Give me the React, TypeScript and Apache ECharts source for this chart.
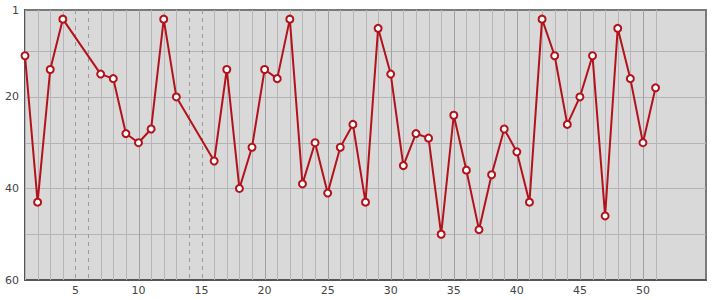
import React, { useEffect, useRef } from "react";
import * as echarts from "echarts";

const weeks: number[] = Array.from({ length: 51 }, (_, i) => i + 1);
const ranks: (number | null)[] = [
  11, 43, 14, 3, null, null, 15, 16, 28, 30,
  27, 3, 20, null, null, 34, 14, 40, 31, 14,
  16, 3, 39, 30, 41, 31, 26, 43, 5, 15,
  35, 28, 29, 50, 24, 36, 49, 37, 27, 32,
  43, 3, 11, 26, 20, 11, 46, 5, 16, 30,
  18,
];
const yLabels: number[] = [1, 20, 40, 60];
const yGridValues: number[] = [10, 20, 30, 40, 50];
const xLabelStep = 5;

const RED = "#b3121b";

export default function App() {
  const ref = useRef<HTMLDivElement>(null);
  useEffect(() => {
    if (!ref.current) return;
    const chart = echarts.init(ref.current, undefined, { renderer: "svg" });
    const points = weeks
      .map((w, i) => [w, ranks[i]])
      .filter((p) => p[1] !== null);
    const gridData = weeks.map((w, i) => [w, ranks[i] === null ? 1 : 0]);
    chart.setOption({
      animation: false,
      grid: {
        left: 25,
        top: 10,
        right: 9,
        bottom: 20,
        show: true,
        backgroundColor: "#d9d9d9",
        borderColor: "#7a7a7a",
        borderWidth: 2,
      },
      xAxis: {
        type: "value",
        min: 1,
        max: 55,
        interval: 1,
        axisLine: { show: true, lineStyle: { color: "#555", width: 2 } },
        axisTick: { show: false },
        splitLine: { show: false },
        axisLabel: {
          color: "#444",
          fontFamily: "DejaVu Sans",
          fontSize: 11,
          margin: 5,
          formatter: (v: number) =>
            v % xLabelStep === 0 && v <= weeks.length ? String(v) : "",
        },
      },
      yAxis: {
        type: "value",
        inverse: true,
        min: 1,
        max: 60,
        axisLine: { show: true, lineStyle: { color: "#555", width: 2 } },
        axisTick: { show: false, customValues: yLabels },
        splitLine: { show: false },
        axisLabel: {
          color: "#444",
          fontFamily: "DejaVu Sans",
          fontSize: 11,
          margin: 6,
          customValues: yLabels,
          formatter: (v: number) => String(v),
        },
      },
      series: [
        {
          type: "custom",
          z: 1,
          silent: true,
          data: yGridValues.map((v) => [1, v]),
          renderItem: (params: any, api: any) => {
            const cs = params.coordSys;
            const y = Math.round(api.coord([1, api.value(1)])[1]) + 0.5;
            return {
              type: "line",
              shape: { x1: cs.x, y1: y, x2: cs.x + cs.width, y2: y },
              style: { stroke: "#b4b4b4", lineWidth: 1 },
            };
          },
        },
        {
          type: "custom",
          z: 1,
          silent: true,
          data: gridData,
          renderItem: (params: any, api: any) => {
            const w = api.value(0);
            const missing = api.value(1) === 1;
            const cs = params.coordSys;
            const x = Math.round(api.coord([w, 1])[0]) + 0.5;
            const major = w % 5 === 0;
            return {
              type: "line",
              shape: { x1: x, y1: cs.y, x2: x, y2: cs.y + cs.height },
              style: {
                stroke: missing ? "#9a9a9a" : major ? "#a0a0a0" : "#b6b6b6",
                lineWidth: 1,
                lineDash: missing ? [4, 4] : null,
              },
            };
          },
        },
        {
          type: "line",
          z: 3,
          data: points,
          connectNulls: true,
          symbol: "emptyCircle",
          symbolSize: 7,
          lineStyle: { color: RED, width: 2 },
          itemStyle: { color: RED, borderColor: RED, borderWidth: 2 },
        },
      ],
    });
    return () => chart.dispose();
  }, []);
  return <div ref={ref} style={{ width: 715, height: 300, position: "absolute", left: 0, top: 0 }} />;
}
